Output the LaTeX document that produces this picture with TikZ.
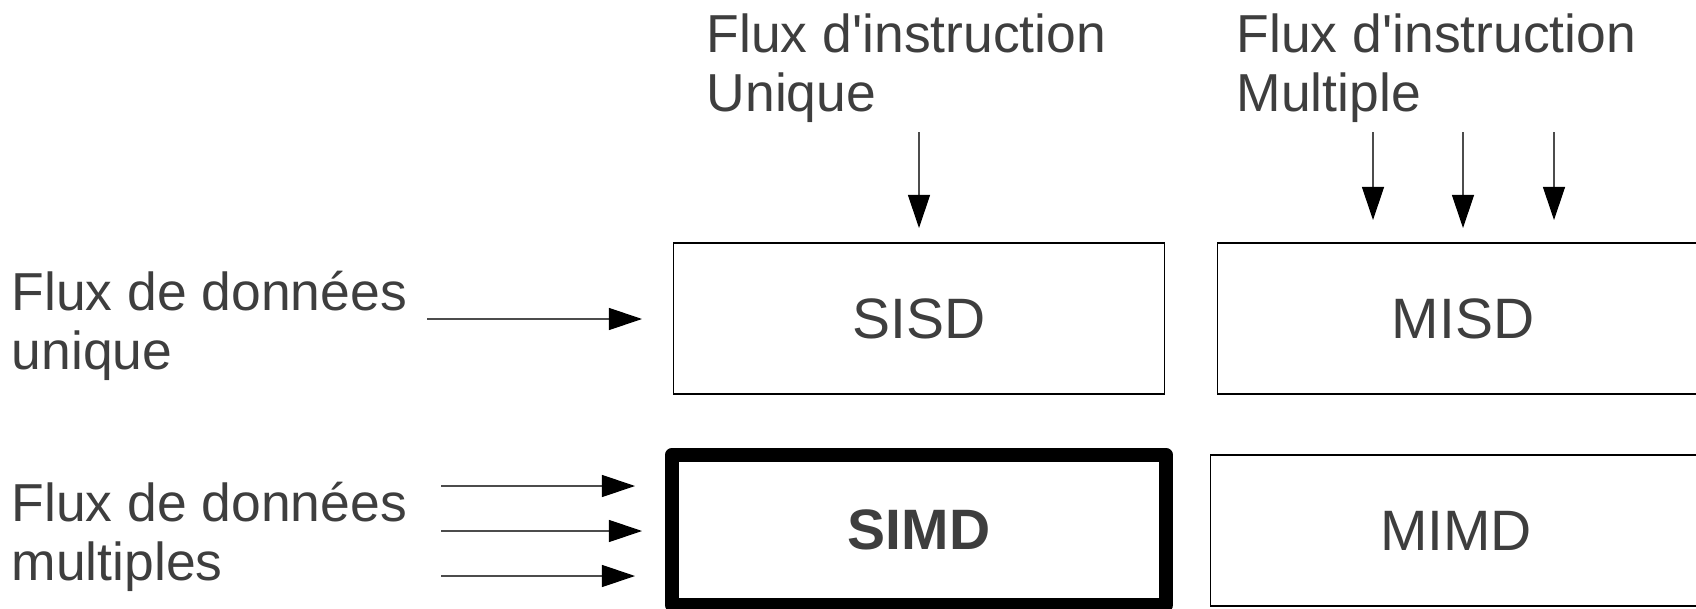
\documentclass[tikz,border=0pt]{standalone}
\usepackage{fontspec}
\setmainfont{Liberation Sans}[Ligatures=TeXOff]
\usepackage{tikz}
\usetikzlibrary{arrows.meta}
\definecolor{SlGray}{RGB}{62,62,62}

\begin{document}
\begin{tikzpicture}[x=0.01cm, y=-0.01cm,
      lbl/.style={anchor=base west, inner sep=0pt, align=left, text=SlGray,
                  font=\fontsize{15.2}{16.6}\selectfont},
      cbox/.style={draw=black, line width=0.012cm, minimum width=4.9cm,
                   minimum height=1.51cm, inner sep=0pt, text=SlGray,
                   font=\fontsize{16.2}{18}\selectfont},
      arr/.style={-{Triangle[length=0.33cm, width=0.22cm, color=black]},
                  draw=black!70, line width=0.012cm}
    ]
    \clip (0,0) rectangle (1696,609);

    \node[lbl] (iu) at (706,111)  {Flux d'instruction\\Unique};
    \node[lbl] (im) at (1236,111) {Flux d'instruction\\Multiple};
    \node[lbl] (du) at (11,369)   {Flux de données\\unique};
    \node[lbl] (dm) at (11,580)   {Flux de données\\multiples};

    \node[cbox]                (sisd) at (919,318.5)  {SISD};
    \node[cbox]                (misd) at (1463,318.5) {MISD};
    \node[cbox, line width=0.14cm, line join=round, minimum width=4.94cm,
          minimum height=1.5cm, font=\fontsize{16.2}{18}\selectfont\bfseries]
                               (simd) at (919,530)    {SIMD};
    \node[cbox]                (mimd) at (1456,530.5) {MIMD};

    % instruction streams
    \coordinate (u0) at (919,132);
    \coordinate (u1) at (919,228);
    \draw[arr] (u0) -- (u1);
    \foreach \x/\t [count=\i] in {1373/220, 1463/228, 1554/220}{
      \coordinate (m\i a) at (\x,132);
      \coordinate (m\i b) at (\x,\t);
      \draw[arr] (m\i a) -- (m\i b);
    }

    % data streams
    \coordinate (d0) at (427,319);
    \coordinate (d1) at (642,319);
    \draw[arr] (d0) -- (d1);
    \foreach \y/\t [count=\i] in {486/635, 531/642, 576/635}{
      \coordinate (e\i a) at (441,\y);
      \coordinate (e\i b) at (\t,\y);
      \draw[arr] (e\i a) -- (e\i b);
    }
  \end{tikzpicture}
\end{document}
